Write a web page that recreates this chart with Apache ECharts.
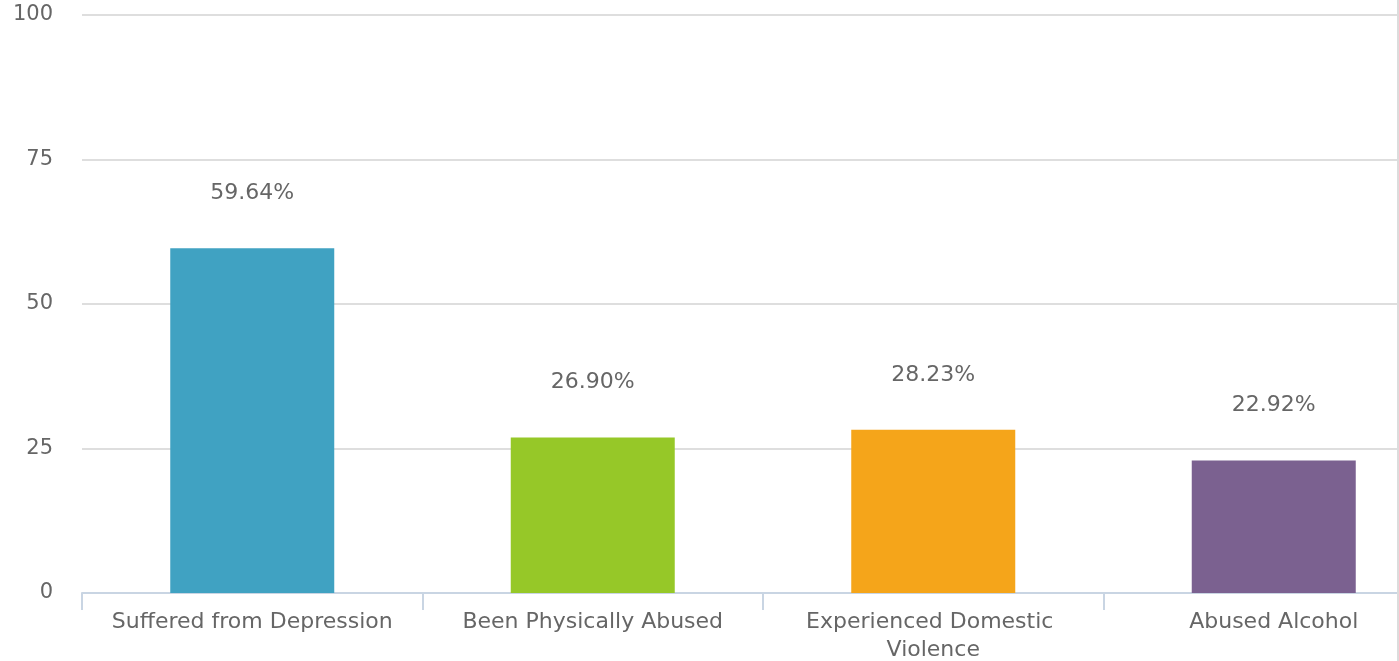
<!DOCTYPE html>
<html>
<head>
<meta charset="utf-8">
<script src="https://cdn.jsdelivr.net/npm/echarts@6/dist/echarts.min.js"></script>
<style>
html,body{margin:0;padding:0;background:#fff;overflow:hidden;width:1399px;height:661px;}
#chart{width:1446px;height:661px;}
#edge{position:absolute;left:1397px;top:0;width:2px;height:661px;background:#dcdcdc;}
</style>
</head>
<body>
<div id="chart"></div>
<div id="edge"></div>
<script>
const categories = ["Suffered from Depression", "Been Physically Abused", "Experienced Domestic Violence", "Abused Alcohol"];
const values = [59.64, 26.90, 28.23, 22.92];
const barColors = ["#40a2c2", "#96c828", "#f5a51a", "#7b6190"];
const yTicks = { min: 0, max: 100, interval: 25 };

const chart = echarts.init(document.getElementById('chart'));
const font = '"DejaVu Sans", Verdana, sans-serif';
chart.setOption({
  animation: false,
  grid: { left: 82, top: 15, right: 2, bottom: 68, containLabel: false, outerBoundsMode: 'none' },
  xAxis: {
    type: 'category',
    data: categories,
    axisLine: { show: true, lineStyle: { color: '#c9d5e3', width: 2 } },
    axisTick: { show: true, length: 17, lineStyle: { color: '#c9d5e3', width: 2 } },
    axisLabel: {
      color: '#666', fontSize: 22, fontFamily: font, margin: 15,
      width: 320, overflow: 'break', lineHeight: 28, interval: 0
    },
    splitLine: { show: false }
  },
  yAxis: {
    type: 'value',
    min: yTicks.min, max: yTicks.max, interval: yTicks.interval,
    axisLine: { show: false },
    axisTick: { show: false },
    axisLabel: { color: '#666', fontSize: 21, fontFamily: font, margin: 29, padding: [6, 0, 0, 0] },
    splitLine: { lineStyle: { color: '#dedede', width: 2 } }
  },
  series: [{
    type: 'bar',
    barWidth: 164,
    data: values.map((v, i) => ({ value: v, itemStyle: { color: barColors[i] } })),
    label: {
      show: true, position: 'top', distance: 44,
      color: '#666', fontSize: 22, fontFamily: font,
      formatter: p => p.value.toFixed(2) + '%'
    }
  }]
});
</script>
</body>
</html>
